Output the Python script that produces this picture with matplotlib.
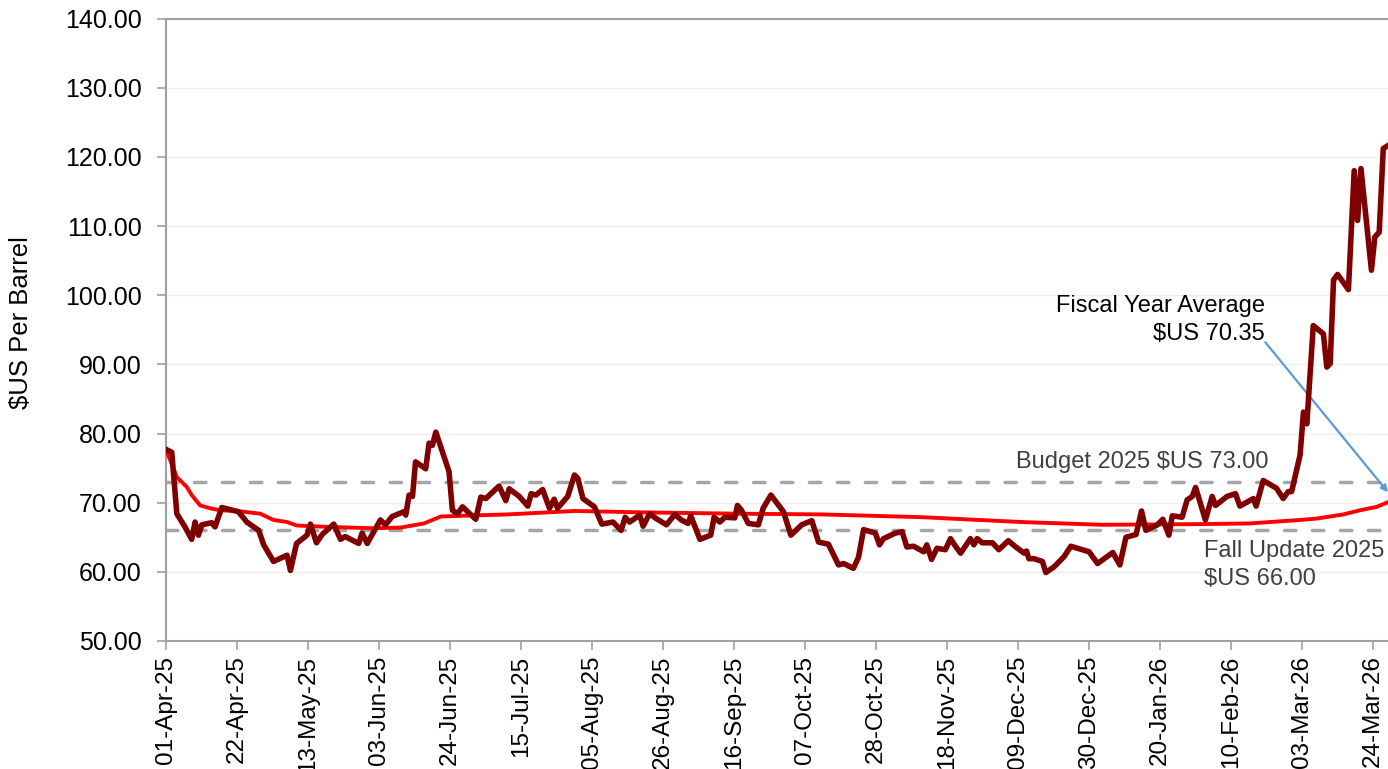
import datetime as dt

import matplotlib
matplotlib.use("Agg")
import matplotlib.pyplot as plt
import matplotlib.ticker as ticker

# ── Data (days counted from 01-Apr-25) ───────────────────────────────────────
start_date = dt.date(2025, 4, 1)

price_days = [
    0, 1.7, 3.2, 5.6, 7.6, 8.6, 9.6, 10.6, 13.5, 14.5, 16.5, 21.4, 23.9, 27.4,
    28.9, 31.8, 35.8, 36.8, 38.6, 41.7, 42.7, 44.5, 46.2, 49.6, 51.6, 53.0,
    57.0, 58.0, 59.5, 63.4, 64.9, 66.9, 70.4, 70.9, 71.9, 72.9, 73.8, 76.8,
    77.8, 78.8, 79.8, 83.7, 84.7, 86.2, 87.7, 91.6, 93.1, 94.6, 98.5, 100.5,
    101.5, 104.5, 107, 108, 109.4, 111.4, 113.4, 114.8, 115.8, 118.8, 120.8,
    121.8, 123.3, 126.7, 128.9, 132.2, 134.6, 135.8, 137.1, 140.1, 141.1, 143,
    145, 148, 150.5, 152.4, 154.4, 155.2, 157.9, 161.1, 162.1, 163.8, 165.3,
    168.2, 169, 170.2, 172.2, 175.2, 176.6, 178.9, 182.6, 184.8, 188, 191, 193,
    195.9, 198.9, 200.4, 203.3, 204.8, 206.3, 209.8, 211, 212.2, 215.7, 217.7,
    219.1, 221.1, 224.1, 225, 226.4, 228, 230.5, 232, 233.5, 235, 237.9, 238.9,
    239.9, 241.4, 244.4, 246.3, 249.1, 251.3, 253.8, 254.5, 255.2, 256.7,
    259.2, 260.2, 262.6, 265.6, 267.6, 273, 275.5, 280, 282.1, 283.9, 286.9,
    288.5, 289.8, 293.2, 294.8, 296.6, 297.6, 300.5, 302, 303.5, 304.5, 307.4,
    309.4, 310.4, 313.8, 316.3, 317.6, 321.6, 322.4, 324.5, 328.4, 330.4,
    331.9, 332.9, 333.9, 335.4, 336.4, 337.4, 339.3, 342.3, 343.3, 344.3,
    345.3, 346.5, 349.7, 351.4, 352.4, 353.4, 356.5, 357.5, 358.8, 360.0, 362.0,
]
price_values = [
    77.7, 77.3, 68.4, 66.5, 64.7, 67.2, 65.3, 66.8, 67.1, 66.5, 69.3, 68.7,
    67.2, 66.0, 63.9, 61.5, 62.4, 60.2, 64.1, 65.3, 66.9, 64.2, 65.4, 66.9,
    64.7, 65.1, 64.1, 65.6, 64.1, 67.5, 66.8, 68.0, 68.7, 68.2, 71.1, 70.9,
    75.9, 74.9, 78.6, 78.3, 80.2, 74.5, 68.9, 68.4, 69.4, 67.6, 70.8, 70.6,
    72.4, 70.3, 72.0, 70.9, 69.5, 71.3, 71.1, 71.9, 69.2, 70.5, 69.2, 70.9,
    74.0, 73.5, 70.6, 69.4, 66.9, 67.2, 66.0, 67.9, 67.2, 68.2, 66.6, 68.4,
    67.7, 66.8, 68.3, 67.5, 67.0, 68.1, 64.7, 65.3, 67.9, 67.2, 67.9, 67.8,
    69.6, 68.9, 67.0, 66.8, 69.2, 71.1, 68.7, 65.3, 66.8, 67.4, 64.3, 64.0,
    61.0, 61.2, 60.5, 62.1, 66.1, 65.6, 63.9, 64.8, 65.6, 65.8, 63.6, 63.7,
    62.9, 63.9, 61.8, 63.4, 63.2, 64.8, 63.7, 62.7, 64.8, 63.9, 64.8, 64.2,
    64.2, 63.2, 64.5, 63.6, 62.7, 63.0, 61.9, 61.9, 61.5, 59.9, 60.7, 62.2,
    63.7, 62.9, 61.2, 62.8, 61.0, 65.0, 65.4, 68.8, 66.0, 66.8, 67.6, 65.3,
    68.1, 67.9, 70.4, 70.9, 72.2, 67.5, 70.9, 69.6, 70.9, 71.3, 69.5, 70.6,
    69.5, 73.2, 72.1, 70.6, 71.6, 71.6, 73.7, 76.9, 83.1, 81.4, 95.6, 94.4,
    89.6, 90.1, 102.2, 103.0, 100.8, 118.0, 110.8, 118.3, 103.6, 108.4, 109.1,
    121.2, 121.8,
]

avg_days = [
    0, 3.2, 6.1, 7.6, 10.1, 13, 16, 21, 27.9, 31.8, 35.8, 38.7, 47.6, 61.5,
    69.4, 76.3, 81.3, 87.2, 101, 120.8, 140.6, 170.2, 194, 223.6, 253, 277,
    306, 320.6, 335.4, 340.3, 348.2, 353.1, 358.1, 362.0,
]
avg_values = [
    77.7, 73.7, 72.3, 71.1, 69.6, 69.2, 68.9, 68.8, 68.4, 67.5, 67.2, 66.7,
    66.5, 66.3, 66.4, 67.0, 68.0, 68.1, 68.3, 68.8, 68.6, 68.4, 68.3, 67.9,
    67.2, 66.8, 66.9, 67.0, 67.5, 67.7, 68.3, 68.9, 69.4, 70.2,
]

budget_2025 = 73.00
fall_update_2025 = 66.00
fiscal_avg = 70.35
# ─────────────────────────────────────────────────────────────────────────────

plt.rcParams["font.family"] = ["Liberation Sans", "DejaVu Sans"]

fig = plt.figure(figsize=(13.88, 7.69), dpi=100)
ax = fig.add_axes([166 / 1388, 1 - 641 / 769, 1 - 166 / 1388, (641 - 18.5) / 769])

# reference lines
for lvl in (budget_2025, fall_update_2025):
    ax.axhline(lvl, color="#A6A6A6", lw=2.5, linestyle=(0, (3.3, 4.75)),
               dash_capstyle="round", zorder=2)

ax.plot(avg_days, avg_values, color="#FF0000", lw=2.8, zorder=3,
        solid_joinstyle="round")
ax.plot(price_days, price_values, color="#7F0000", lw=4.0, zorder=4,
        solid_joinstyle="round")

ax.set_xlim(0, 361.4)
ax.set_ylim(50, 140)

ax.yaxis.set_major_locator(ticker.MultipleLocator(10))
ax.yaxis.set_major_formatter(ticker.StrMethodFormatter("{x:.2f}"))
ax.xaxis.set_major_locator(ticker.MultipleLocator(21))
ax.xaxis.set_major_formatter(ticker.FuncFormatter(
    lambda v, _: (start_date + dt.timedelta(days=int(round(v)))).strftime("%d-%b-%y")))

ax.yaxis.grid(True, color="#EEEEEE", lw=1.0)
ax.set_axisbelow(True)

for side in ("left", "bottom", "top"):
    ax.spines[side].set_color("#A0A0A0")
    ax.spines[side].set_linewidth(1.5)
ax.spines["right"].set_visible(False)

ax.tick_params(axis="y", direction="out", length=6.5, width=1.2, color="#A0A0A0",
               labelsize=18, pad=11, labelcolor="black")
ax.tick_params(axis="x", direction="out", length=6.5, width=1.2, color="#A0A0A0",
               labelsize=17.5, pad=4, labelcolor="black", labelrotation=90)

ax.set_ylabel("\\$US Per Barrel", fontsize=18.5)
ax.yaxis.set_label_coords(-0.109, 0.511)

# annotations
ax.text(325, 96.4, f"Fiscal Year Average\n\\$US {fiscal_avg:.2f}", ha="right",
        va="center", fontsize=17, color="black", linespacing=1.35)
ax.annotate("", xy=(361.4, 71.5), xytext=(325.1, 93.2),
            arrowprops=dict(arrowstyle="-|>", color="#5B9BD5", lw=1.6,
                            mutation_scale=10, shrinkA=0, shrinkB=0),
            annotation_clip=False)
ax.text(251.4, 75.9, f"Budget 2025 \\$US {budget_2025:.2f}", ha="left",
        va="center", fontsize=17, color="#404040")
ax.text(307, 61.0, f"Fall Update 2025\n\\$US {fall_update_2025:.2f}", ha="left",
        va="center", fontsize=17, color="#404040", linespacing=1.35)

fig.savefig("out.png", dpi=100)
